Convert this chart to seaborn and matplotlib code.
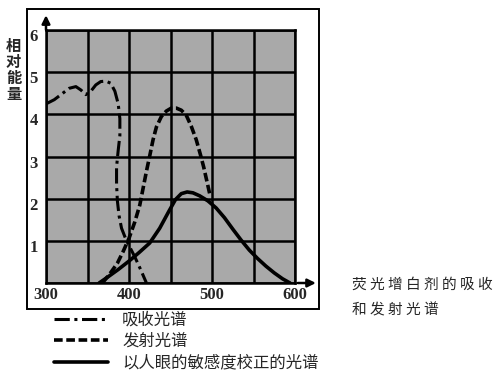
import matplotlib
matplotlib.use("Agg")
import matplotlib.pyplot as plt
import matplotlib.transforms as mtransforms
from matplotlib.patches import Rectangle
import seaborn as sns
import pandas as pd

# absorption spectrum (dash-dot)
abs_wl = [300, 310, 320, 328, 336, 342, 348, 354, 360, 366, 372, 378, 383, 387, 389,
          389, 387, 385, 385, 386, 388, 391, 396, 401, 407, 414, 421]
abs_val = [4.25, 4.35, 4.50, 4.62, 4.66, 4.58, 4.47, 4.55, 4.70, 4.78, 4.79, 4.74, 4.55, 4.25, 3.90,
           3.50, 3.15, 2.75, 2.35, 1.95, 1.60, 1.30, 1.05, 0.85, 0.62, 0.32, 0.0]

# emission spectrum (dashed)
emi_wl = [368, 377, 386, 393, 400, 407, 413, 417, 421, 425, 429, 433, 439, 445, 451,
          457, 463, 469, 475, 481, 486, 490, 494, 498]
emi_val = [0.0, 0.22, 0.47, 0.75, 1.06, 1.45, 1.85, 2.25, 2.65, 3.02, 3.40, 3.70, 3.95, 4.08, 4.15,
           4.15, 4.10, 3.98, 3.72, 3.40, 3.05, 2.75, 2.40, 2.05]

# spectrum corrected by eye sensitivity (solid)
eye_wl = [364, 375, 387, 400, 412, 425, 437, 448, 456, 463, 470, 477, 485, 495, 505,
          515, 525, 535, 545, 555, 565, 575, 585, 594]
eye_val = [0.0, 0.15, 0.32, 0.52, 0.72, 0.95, 1.30, 1.70, 1.98, 2.12, 2.16, 2.14, 2.07, 1.95, 1.78,
           1.55, 1.28, 1.02, 0.78, 0.58, 0.40, 0.24, 0.10, 0.0]

labels = ["吸收光谱", "发射光谱", "以人眼的敏感度校正的光谱"]
x_ticks = [300, 400, 500, 600]
y_ticks = [1, 2, 3, 4, 5, 6]

sns.set_style("white")
plt.rcParams['font.family'] = ['Noto Sans CJK SC', 'DejaVu Sans']

fig = plt.figure(figsize=(5.0, 3.78), dpi=100)
ax = fig.add_axes([0.092, 0.2513, 0.498, 0.669])
ax.set_facecolor('#a9a9a9')

df_abs = pd.DataFrame({'wl': abs_wl, 'val': abs_val})
df_emi = pd.DataFrame({'wl': emi_wl, 'val': emi_val})
df_eye = pd.DataFrame({'wl': eye_wl, 'val': eye_val})

sns.lineplot(data=df_abs, x='wl', y='val', sort=False, estimator=None, ax=ax,
             color='black', linewidth=2.2, label=labels[0])
ax.lines[-1].set_linestyle((0, (5, 1.5, 1, 1.5)))
sns.lineplot(data=df_emi, x='wl', y='val', sort=False, estimator=None, ax=ax,
             color='black', linewidth=2.6, label=labels[1])
ax.lines[-1].set_linestyle((0, (2.4, 1.0)))
sns.lineplot(data=df_eye, x='wl', y='val', sort=False, estimator=None, ax=ax,
             color='black', linewidth=2.6, label=labels[2])

ax.set_xlim(300, 600)
ax.set_ylim(0, 6)
ax.grid(True, color='black', linewidth=1.8)
ax.set_axisbelow(True)
ax.set_xticks(range(300, 601, 50))
ax.set_xticklabels([str(t) if t in x_ticks else '' for t in range(300, 601, 50)],
                   fontfamily='Liberation Serif', fontweight='bold', fontsize=12)
ax.set_yticks([0] + y_ticks)
ax.set_yticklabels([''] + [str(t) for t in y_ticks],
                   fontfamily='Liberation Serif', fontweight='bold', fontsize=12)
ax.tick_params(length=0, pad=3)
ax.tick_params(axis='y', pad=6)
off = mtransforms.ScaledTranslation(0, -5 / 100, fig.dpi_scale_trans)
for lab in ax.get_yticklabels():
    lab.set_transform(lab.get_transform() + off)
ax.set_xlabel('')
ax.set_ylabel('')
for s in ax.spines.values():
    s.set_color('black')
    s.set_linewidth(1.8)

# axis arrows
ax.annotate('', xy=(0, 1.07), xytext=(0, 0.99), xycoords='axes fraction',
            arrowprops=dict(arrowstyle='-|>', color='black', lw=1.8, mutation_scale=12),
            annotation_clip=False)
ax.annotate('', xy=(1.095, 0), xytext=(1.0, 0), xycoords='axes fraction',
            arrowprops=dict(arrowstyle='-|>', color='black', lw=1.8, mutation_scale=12),
            annotation_clip=False)

# outer frame
fig.patches.append(Rectangle((0.054, 0.1825), 0.584, 0.794, transform=fig.transFigure,
                             fill=False, edgecolor='black', linewidth=1.4))

# vertical y-axis title
fig.text(0.027, 0.815, "相\n对\n能\n量", ha='center', va='center', fontsize=11,
         fontweight='bold', linespacing=1.0)

# caption on the right
fig.text(0.704, 0.246, "荧 光 增 白 剂 的 吸 收", ha='left', va='center', fontsize=10.6)
fig.text(0.704, 0.180, "和 发 射 光 谱", ha='left', va='center', fontsize=10.6)

ax.get_legend().remove()
handles = ax.lines[:3]
fig.legend(handles, labels, loc='upper left', bbox_to_anchor=(0.108, 0.176),
           frameon=False, fontsize=11.8, handlelength=3.3, handletextpad=0.85,
           labelspacing=0.28, borderpad=0, borderaxespad=0)

fig.savefig('out.png', dpi=100)
